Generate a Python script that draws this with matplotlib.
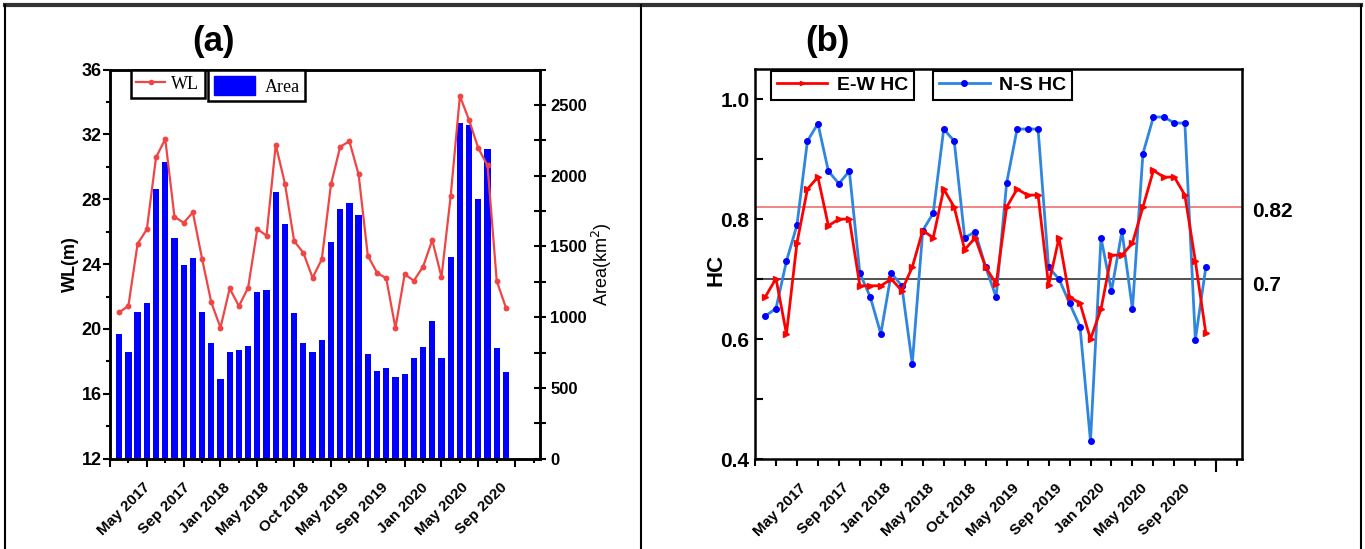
import numpy as np
import matplotlib
matplotlib.use('Agg')
import matplotlib.pyplot as plt
from matplotlib.lines import Line2D
from matplotlib.patches import Patch
from matplotlib.ticker import MultipleLocator, FixedLocator

plt.rcParams['font.family'] = ['Liberation Sans', 'DejaVu Sans']

date_labels = ['May 2017', 'Sep 2017', 'Jan 2018', 'May 2018', 'Oct 2018',
               'May 2019', 'Sep 2019', 'Jan 2020', 'May 2020', 'Sep 2020']

wl = [21.02, 21.43, 25.26, 26.14, 30.58, 31.71, 26.92, 26.55, 27.19, 24.33,
      21.64, 20.08, 22.50, 21.41, 22.54, 26.16, 25.75, 31.36, 28.96, 25.42,
      24.70, 23.16, 24.29, 28.92, 31.24, 31.57, 29.53, 24.52, 23.47, 23.12,
      20.06, 23.37, 22.98, 23.84, 25.48, 23.20, 28.20, 34.36, 32.88, 31.14,
      30.09, 22.96, 21.31]
area = [879, 756, 1034, 1100, 1906, 2097, 1562, 1367, 1418, 1037,
        818, 566, 756, 766, 794, 1176, 1190, 1887, 1656, 1030,
        818, 756, 841, 1534, 1767, 1805, 1722, 742, 620, 639,
        580, 601, 709, 792, 971, 714, 1423, 2370, 2359, 1833,
        2187, 785, 615]
ns_hc = [0.639, 0.651, 0.730, 0.790, 0.930, 0.959, 0.880, 0.859, 0.880, 0.710,
         0.670, 0.609, 0.710, 0.689, 0.559, 0.781, 0.810, 0.950, 0.930, 0.769,
         0.779, 0.720, 0.670, 0.860, 0.950, 0.950, 0.950, 0.720, 0.700, 0.660,
         0.621, 0.430, 0.769, 0.680, 0.780, 0.650, 0.909, 0.970, 0.970, 0.960,
         0.960, 0.599, 0.720]
ew_hc = [0.671, 0.701, 0.609, 0.760, 0.850, 0.870, 0.789, 0.800, 0.800, 0.689,
         0.689, 0.689, 0.700, 0.681, 0.720, 0.781, 0.769, 0.850, 0.820, 0.749,
         0.769, 0.720, 0.692, 0.820, 0.850, 0.840, 0.840, 0.690, 0.769, 0.670,
         0.660, 0.600, 0.650, 0.740, 0.740, 0.760, 0.820, 0.881, 0.870, 0.870,
         0.840, 0.730, 0.610]
ref_high = 0.82
ref_low = 0.7

x = np.arange(len(wl))

fig = plt.figure(figsize=(13.65, 5.49), dpi=100)

# ---------------- panel (a) ----------------
axL = fig.add_axes([110/1365, 1-458.7/549, 430/1365, 389.2/549])
axR = axL.twinx()
axR.bar(x, area, width=0.68, color='#0000FF', zorder=2)
axL.set_zorder(axR.get_zorder() + 1)
axL.patch.set_visible(False)
axL.plot(x, wl, color='#F04545', lw=1.6, marker='o', ms=3.2, zorder=3)

axL.set_xlim(-1, 45.7)
axL.set_ylim(12, 36)
axR.set_ylim(0, 2750)
axL.yaxis.set_major_locator(MultipleLocator(4))
axL.yaxis.set_minor_locator(MultipleLocator(2))
axL.tick_params(axis='y', which='major', direction='out', length=5, width=1.5,
                labelsize=13, pad=1)
axL.tick_params(axis='y', which='minor', direction='out', length=3, width=1.5)
for t in axL.get_yticklabels():
    t.set_fontweight('bold')
axR.yaxis.set_major_locator(MultipleLocator(500))
axR.yaxis.set_minor_locator(MultipleLocator(250))
axR.tick_params(axis='y', which='both', direction='inout', length=9, width=1.5,
                labelsize=12, pad=3)
for t in axR.get_yticklabels():
    t.set_fontweight('bold')
axL.xaxis.set_major_locator(FixedLocator(np.arange(-1, 46, 4)))
axL.xaxis.set_minor_locator(FixedLocator(np.arange(1, 46, 4)))
axL.tick_params(axis='x', which='major', direction='out', length=6, width=1.5,
                labelbottom=False)
axL.tick_params(axis='x', which='minor', direction='out', length=3, width=1.5)
for a in (axL, axR):
    for s in a.spines.values():
        s.set_linewidth(1.8)
axL.set_ylabel('WL(m)', fontsize=13, fontweight='bold', labelpad=2)
axR.set_ylabel('Area(km$^2$)', fontsize=13, labelpad=2)

posL = np.linspace(2.6, 41.4, len(date_labels))
for p, lab in zip(posL, date_labels):
    axL.text(p, -0.055, lab, transform=axL.get_xaxis_transform(), rotation=45,
             ha='right', va='top', rotation_mode='anchor', fontsize=11,
             fontweight='bold')

serif = {'family': 'Liberation Serif', 'size': 13}
lg1 = axL.legend([Line2D([], [], color='#F04545', lw=1.6, marker='o', ms=3)], ['WL'],
                 loc='upper left', bbox_to_anchor=(0.048, 0.998), borderaxespad=0,
                 fancybox=False, edgecolor='black', prop=serif, handlelength=1.6,
                 handletextpad=0.35, borderpad=0.3, framealpha=1)
lg1.get_frame().set_linewidth(1.8)
axL.add_artist(lg1)
lg2 = axL.legend([Patch(color='#0000FF')], ['Area'],
                 loc='upper left', bbox_to_anchor=(0.229, 0.998), borderaxespad=0,
                 fancybox=False, edgecolor='black', prop=serif, handlelength=2.3,
                 handleheight=1.3, handletextpad=0.5, borderpad=0.3, framealpha=1)
lg2.get_frame().set_linewidth(1.8)

# ---------------- panel (b) ----------------
axB = fig.add_axes([755/1365, 1-459.3/549, 487/1365, 390.3/549])
axB.axhline(ref_high, color='#F07070', lw=1.2, zorder=1)
axB.axhline(ref_low, color='#333333', lw=1.2, zorder=1)
axB.plot(x, ew_hc, color='#FF0000', lw=2, marker='>', ms=4, zorder=3,
         label='E-W HC')
axB.plot(x, ns_hc, color='#2E86DE', lw=2, marker='o', ms=4,
         markerfacecolor='#0000FF', markeredgecolor='#0000FF', zorder=2,
         label='N-S HC')
axB.set_xlim(-1, 45.45)
axB.set_ylim(0.4, 1.05)
axB.yaxis.set_major_locator(FixedLocator([0.4, 0.6, 0.8, 1.0]))
axB.yaxis.set_minor_locator(FixedLocator([0.5, 0.7, 0.9]))
axB.tick_params(axis='y', which='both', direction='in', length=6, width=1.5,
                labelsize=15, pad=4)
for t in axB.get_yticklabels():
    t.set_fontweight('bold')
ticksB = [v for v in range(-1, 46, 2) if v != 43]
axB.xaxis.set_major_locator(FixedLocator(ticksB))
axB.xaxis.set_minor_locator(FixedLocator([43]))
axB.tick_params(axis='x', which='major', direction='out', length=5, width=1.5,
                labelbottom=False)
axB.tick_params(axis='x', which='minor', direction='out', length=9, width=1.5)
for s in axB.spines.values():
    s.set_linewidth(1.8)
axB.set_ylabel('HC', fontsize=16, fontweight='bold')
axB.yaxis.set_label_coords(-0.058, 0.485)

posB = np.linspace(3.2, 39.8, len(date_labels))
for p, lab in zip(posB, date_labels):
    axB.text(p, -0.055, lab, transform=axB.get_xaxis_transform(), rotation=45,
             ha='right', va='top', rotation_mode='anchor', fontsize=11,
             fontweight='bold')

axB.text(1.02, ref_high - 0.008, '0.82', transform=axB.get_yaxis_transform(),
         fontsize=15, fontweight='bold', va='center', ha='left')
axB.text(1.02, ref_low - 0.01, '0.7', transform=axB.get_yaxis_transform(),
         fontsize=15, fontweight='bold', va='center', ha='left')

bold = {'weight': 'bold', 'size': 14}
h_ew = Line2D([], [], color='#FF0000', lw=2, marker='>', ms=3)
h_ns = Line2D([], [], color='#2E86DE', lw=2, marker='o', ms=4,
              markerfacecolor='#0000FF', markeredgecolor='#0000FF')
lg3 = axB.legend([h_ew], ['E-W HC'], loc='upper left', bbox_to_anchor=(0.033, 0.996),
                 borderaxespad=0, fancybox=False, edgecolor='black', prop=bold,
                 handlelength=2.6, handletextpad=0.5, borderpad=0.3, framealpha=1)
lg3.get_frame().set_linewidth(1.5)
axB.add_artist(lg3)
lg4 = axB.legend([h_ns], ['N-S HC'], loc='upper left', bbox_to_anchor=(0.366, 0.996),
                 borderaxespad=0, fancybox=False, edgecolor='black', prop=bold,
                 handlelength=2.6, handletextpad=0.5, borderpad=0.3, framealpha=1)
lg4.get_frame().set_linewidth(1.5)

# ---------------- titles and frame ----------------
fig.text(213/1365, 1-42/549, '(a)', fontsize=25, fontweight='bold',
         ha='center', va='center')
fig.text(827/1365, 1-42/549, '(b)', fontsize=25, fontweight='bold',
         ha='center', va='center')
fig.add_artist(Line2D([5/1365, 1361/1365], [1-5/549, 1-5/549], color='#333333', lw=3))
for xf in (5/1365, 641/1365, 1361/1365):
    fig.add_artist(Line2D([xf, xf], [0, 1-5/549], color='black', lw=1.5))

fig.savefig('out.png', dpi=100)
